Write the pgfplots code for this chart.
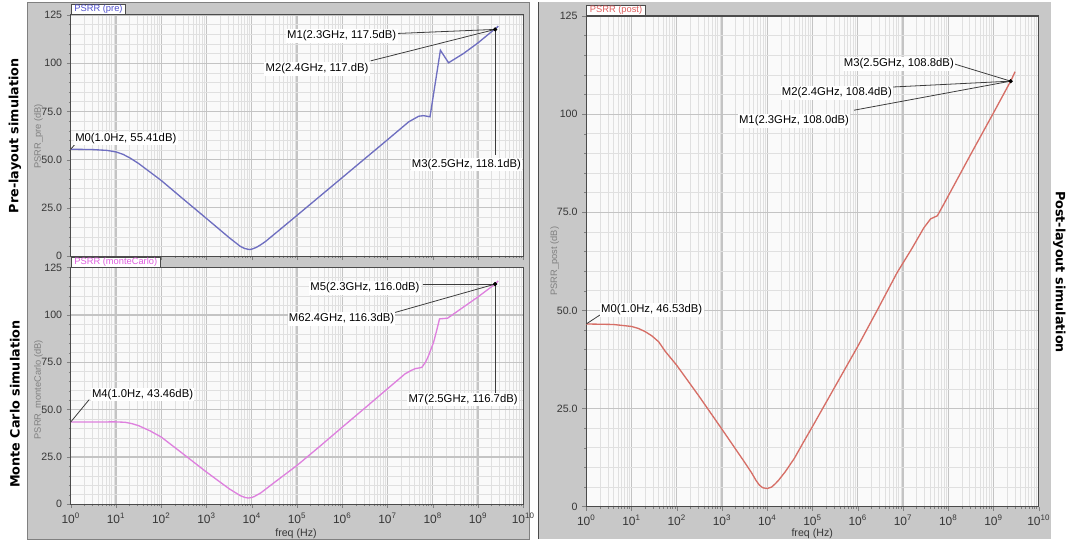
\documentclass[border=0pt]{standalone}
\usepackage{pgfplots}
\pgfplotsset{compat=1.18}
\usepackage{fontspec}
\setmainfont{Liberation Sans}
\newfontfamily\sidefont{DejaVu Sans}
\definecolor{panelgray}{RGB}{200,200,200}
\definecolor{plotbg}{RGB}{250,250,250}
\definecolor{gridminor}{RGB}{224,224,224}
\definecolor{gridmajor}{RGB}{196,196,196}
\definecolor{framec}{RGB}{75,75,75}
\definecolor{precol}{RGB}{110,110,192}
\definecolor{mccol}{RGB}{222,128,222}
\definecolor{postcol}{RGB}{214,110,102}
\definecolor{pretab}{RGB}{80,80,205}
\definecolor{mctab}{RGB}{224,96,224}
\definecolor{posttab}{RGB}{222,92,92}
\definecolor{ticklab}{RGB}{55,55,55}
\definecolor{pinc}{RGB}{60,60,60}
\tikzset{
  mlab/.style={fill=white, inner xsep=1pt, inner ysep=1.2pt, font=\fontsize{8.5}{9}\selectfont, text=black},
  mpin/.style={draw=pinc, line width=0.6pt},
  mtab/.style={draw=framec, fill=white, line width=0.6pt, inner xsep=2.5pt, inner ysep=0.6pt, font=\fontsize{7}{7}\selectfont, anchor=south west},
}
\newcommand\startaxis[1]{\begin{axis}[
    xmode=log,
    xmin=1, xmax=1e10, ymin=0, ymax=125,
    scale only axis, width=340.5pt,
    clip=false,
    anchor=south west,
    axis background/.style={fill=plotbg},
    axis line style={framec, line width=0.8pt},
    xtick={1,1e1,1e2,1e3,1e4,1e5,1e6,1e7,1e8,1e9,1e10},
    minor xtick={2,3,4,5,6,7,8,9,20,30,40,50,60,70,80,90,200,300,400,500,600,700,800,900,2000,3000,4000,5000,6000,7000,8000,9000,2e4,3e4,4e4,5e4,6e4,7e4,8e4,9e4,2e5,3e5,4e5,5e5,6e5,7e5,8e5,9e5,2e6,3e6,4e6,5e6,6e6,7e6,8e6,9e6,2e7,3e7,4e7,5e7,6e7,7e7,8e7,9e7,2e8,3e8,4e8,5e8,6e8,7e8,8e8,9e8,2e9,3e9,4e9,5e9,6e9,7e9,8e9,9e9},
    xticklabels={10\textsuperscript{0},10\textsuperscript{1},10\textsuperscript{2},10\textsuperscript{3},10\textsuperscript{4},10\textsuperscript{5},10\textsuperscript{6},10\textsuperscript{7},10\textsuperscript{8},10\textsuperscript{9},10\textsuperscript{10}},
    ytick={0,25,50,75,100,125},
    minor ytick={5,10,15,20,30,35,40,45,55,60,65,70,80,85,90,95,105,110,115,120},
    yticklabels={0,25.0,50.0,75.0,100,125},
    grid=both,
    major grid style={draw=gridmajor, line width=0.9pt},
    minor grid style={draw=gridminor, line width=0.45pt},
    tick align=outside,
    xtick pos=bottom, ytick pos=left,
    major tick length=3pt, minor tick length=1.5pt,
    yticklabel style={font=\fontsize{8}{9}\selectfont, text=ticklab},
    xticklabel style={font=\fontsize{9}{10}\selectfont, text=ticklab},
    #1]}
\begin{document}
\begin{tikzpicture}[x=1pt,y=1pt]
\fill[white] (0,0) rectangle (802.5,407.25);
\fill[panelgray] (20.25,1.5) rectangle (398.25,405.5);
\fill[panelgray] (405,1.5) rectangle (791.25,405.5);
\draw[framec, line width=0.6pt] (405,1.5) -- (405,405.5);
\draw[gray, line width=0.4pt] (20.25,1.5) rectangle (398.25,405.5);

% side labels
\node[rotate=90, font={\sidefont\bfseries\fontsize{9.6}{11}\selectfont}] at (11.25,305) {Pre-layout simulation};
\node[rotate=90, font={\sidefont\bfseries\fontsize{9.6}{11}\selectfont}] at (11.25,103) {Monte Carlo simulation};
\node[rotate=-90, font={\sidefont\bfseries\fontsize{9.6}{11}\selectfont}] at (797.25,202.5) {Post-layout simulation};

% y labels
\node[rotate=90, font=\fontsize{7}{8}\selectfont, text=gray] at (29,304.5) {PSRR\_pre (dB)};
\node[rotate=90, font=\fontsize{7}{8}\selectfont, text=gray] at (29,114) {PSRR\_monteCarlo (dB)};
\node[rotate=90, font=\fontsize{7}{8}\selectfont, text=gray] at (417.5,210.75) {PSRR\_post (dB)};
% x labels
\node[font=\fontsize{8}{9}\selectfont, text=ticklab] at (222.75,5.2) {freq (Hz)};
\node[font=\fontsize{8}{9}\selectfont, text=ticklab] at (611.25,5.2) {freq (Hz)};

% ---------------- Pre-layout ----------------
\startaxis{at={(53.25pt,214.5pt)}, height=181.5pt, xticklabels={}}
\addplot[precol, line width=1pt] table {
f v
1 55.41
3.162 55.2
6.31 54.8
10 54.0
14.13 52.8
19.95 51.0
31.62 48.0
56.23 43.6
100 39.2
316.2 29.3
1000 19.5
3162 9.6
5623 5.0
7079 3.9
8913 3.4
10000 3.6
12589 4.5
15849 5.9
19953 7.5
39811 13.3
1e5 21.1
316228 30.9
1e6 40.7
3.162e6 50.5
1e7 60.3
2.951e7 69.6
4.898e7 72.5
6.31e7 72.8
8.71e7 72.2
1.479e8 106.7
2.239e8 100.2
4.786e8 105.0
1e9 110.5
2.3e9 117.5
2.5e9 118.1
2.818e9 119.2
};
\addplot[only marks, mark=*, mark size=1.4pt, black] coordinates {(2.4e9,117.5)};
\draw[mpin] (axis cs:1,55.41) -- (axis cs:1.29,58.4);
\node[mlab, anchor=west] at (axis cs:1.16,60.9) {M0(1.0Hz, 55.41dB)};
\draw[mpin] (axis cs:1.67e7,115.4) -- (axis cs:2.4e9,117.5);
\node[mlab, anchor=west] at (axis cs:5.6e4,114.2) {M1(2.3GHz, 117.5dB)};
\draw[mpin] (axis cs:4.26e6,101.2) -- (axis cs:2.4e9,117.5);
\node[mlab, anchor=west] at (axis cs:1.87e4,97.1) {M2(2.4GHz, 117.dB)};
\draw[mpin] (axis cs:2.4e9,117.5) -- (axis cs:2.4e9,52.2);
\node[mlab, anchor=west] at (axis cs:3.2e7,47.5) {M3(2.5GHz, 118.1dB)};
\node[mtab, text=pretab] at (rel axis cs:0,1) {PSRR (pre)};
\end{axis}

% ---------------- Monte Carlo ----------------
\startaxis{at={(53.25pt,27.75pt)}, height=178.1pt}
\addplot[mccol, line width=1pt] table {
f v
1 43.46
10 43.5
15.85 43.3
22.4 42.6
31.62 41.5
56.2 38.8
100 35.5
316.2 26.3
1000 17.0
3162 8.2
5623 4.5
7079 3.6
8318 3.3
9772 3.5
11220 4.0
15849 6.0
31623 11.5
1e5 20.5
316228 30.5
1e6 40.7
3.162e6 50.8
1e7 61.0
2.455e7 68.9
3.3e7 70.6
4.074e7 71.6
5.754e7 72.3
6.9e7 75.0
7.943e7 78.0
1.047e8 85.6
1.26e8 93.0
1.413e8 97.9
2.138e8 98.3
5.012e8 104.5
1e9 109.5
2.3e9 116.0
2.4e9 116.3
2.5e9 116.7
2.8e9 118.0
};
\addplot[only marks, mark=*, mark size=1.4pt, black] coordinates {(2.4e9,116.3)};
\draw[mpin] (axis cs:1,43.46) -- (axis cs:2.56,55.3);
\node[mlab, anchor=west] at (axis cs:2.72,57.9) {M4(1.0Hz, 43.46dB)};
\draw[mpin] (axis cs:6.0e7,116.3) -- (axis cs:2.4e9,116.3);
\node[mlab, anchor=west] at (axis cs:1.83e5,114.2) {M5(2.3GHz, 116.0dB)};
\draw[mpin] (axis cs:1.37e7,101.1) -- (axis cs:2.4e9,116.3);
\node[mlab, anchor=west] at (axis cs:6.1e4,97.9) {M62.4GHz, 116.3dB)};
\draw[mpin] (axis cs:2.4e9,116.3) -- (axis cs:2.4e9,58.9);
\node[mlab, anchor=west] at (axis cs:2.7e7,55.3) {M7(2.5GHz, 116.7dB)};
\node[mtab, text=mctab] at (rel axis cs:0,1) {PSRR (monteCarlo)};
\end{axis}

% ---------------- Post-layout ----------------
\startaxis{at={(441.2pt,26pt)}, height=369.2pt}
\addplot[postcol, line width=1pt] table {
f v
1 46.53
3.98 46.4
10 45.9
14.1 45.4
19.95 44.6
28.2 43.5
39.81 42.0
56.2 39.5
100 36.0
177.8 32.0
316.2 28.0
1000 19.7
3162 11.3
4467 8.7
5623 6.7
6683 5.5
7943 4.8
10000 4.6
12589 5.0
15000 5.8
17783 6.7
25119 8.9
39811 12.3
63096 16.4
1e5 20.4
316228 30.6
1e6 40.8
2.692e6 50.0
7.413e6 59.6
1.585e7 65.8
2.884e7 71.0
4.074e7 73.3
5.754e7 74.1
7.943e7 77.0
3.162e8 89.8
1e9 100.3
2.3e9 108.0
2.4e9 108.4
2.5e9 108.8
3.0e9 110.8
};
\addplot[only marks, mark=*, mark size=1.4pt, black] coordinates {(2.4e9,108.4)};
\draw[mpin] (axis cs:1,46.53) -- (axis cs:2.0,48.8);
\node[mlab, anchor=west] at (axis cs:1.97,50.1) {M0(1.0Hz, 46.53dB)};
\draw[mpin] (axis cs:1.35e8,112.8) -- (axis cs:2.4e9,108.4);
\node[mlab, anchor=west] at (axis cs:4.57e5,112.8) {M3(2.5GHz, 108.8dB)};
\draw[mpin] (axis cs:5.8e6,106.9) -- (axis cs:2.4e9,108.4);
\node[mlab, anchor=west] at (axis cs:1.95e4,105.4) {M2(2.4GHz, 108.4dB)};
\draw[mpin] (axis cs:8.3e5,101.0) -- (axis cs:2.4e9,108.4);
\node[mlab, anchor=west] at (axis cs:2.2e3,98.3) {M1(2.3GHz, 108.0dB)};
\node[mtab, text=posttab] at (rel axis cs:0,1) {PSRR (post)};
\end{axis}
\end{tikzpicture}
\end{document}
